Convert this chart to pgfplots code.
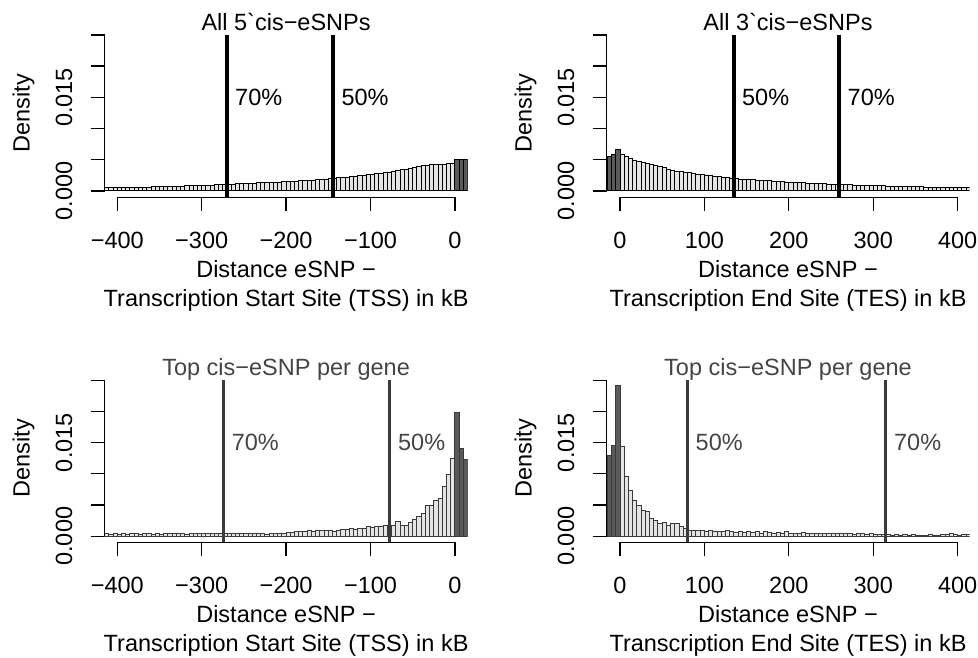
\documentclass[border=0pt]{standalone}
\usepackage{fontspec}
\setmainfont{Liberation Sans}[Ligatures=TeXOff]
\usepackage{pgfplots}
\pgfplotsset{compat=1.18}
\definecolor{barfill}{HTML}{E4E4E4}
\definecolor{darkfill}{HTML}{5A5A5A}
\definecolor{lowink}{HTML}{3A3A3A}
\definecolor{lowtext}{HTML}{444444}

\pgfplotsset{
  rhist/.style={
    scale only axis, width=363pt, height=168.5pt,
    ymin=-0.001, ymax=0.026,
    clip mode=individual,
    axis lines=left, axis line style={draw=none,-},
    tick align=outside, major tick length=14pt,
    tick style={black, line width=1.3pt},
    ytick={0,0.005,0.010,0.015,0.020,0.025},
    yticklabels={0.000,,,0.015,,},
    scaled y ticks=false, scaled x ticks=false,
    xticklabel style={anchor=base, inner sep=0pt},
    yticklabel style={rotate=90, anchor=base, inner sep=0pt},
    xticklabel shift=37pt,
    yticklabel shift=18.5pt,
    /pgf/number format/assume math mode=true,
    every axis title/.style={at={(0.5,1)}, anchor=base, yshift=-1.5pt},
  },
  tss/.style={xmin=-415, xmax=15, xtick={-400,-300,-200,-100,0},
    xticklabels={−400,−300,−200,−100,0}},
  tes/.style={xmin=-16, xmax=414, xtick={0,100,200,300,400},
    xticklabels={0,100,200,300,400}},
}

\begin{document}
\fontsize{23.5}{28.5}\selectfont
\begin{tikzpicture}
\path[use as bounding box] (0pt,0pt) rectangle (978pt,658pt);

% ---------- top left: all 5' cis-eSNPs
\begin{axis}[rhist, tss, at={(104.6pt,460.8pt)}, anchor=south west,
  title={All 5\char"60 cis−eSNPs}]
\addplot[ybar interval, draw=black, fill=barfill, line width=1pt] coordinates {
(-420,0.00048) (-415,0.00050) (-410,0.00050) (-405,0.00052) (-400,0.00053)
(-395,0.00054) (-390,0.00056) (-385,0.00057) (-380,0.00058) (-375,0.00060)
(-370,0.00061) (-365,0.00063) (-360,0.00065) (-355,0.00066) (-350,0.00068)
(-345,0.00070) (-340,0.00072) (-335,0.00074) (-330,0.00076) (-325,0.00078)
(-320,0.00080) (-315,0.00082) (-310,0.00084) (-305,0.00086) (-300,0.00089)
(-295,0.00092) (-290,0.00095) (-285,0.00098) (-280,0.00101) (-275,0.00104)
(-270,0.00108) (-265,0.00110) (-260,0.00113) (-255,0.00116) (-250,0.00119)
(-245,0.00122) (-240,0.00125) (-235,0.00128) (-230,0.00131) (-225,0.00134)
(-220,0.00137) (-215,0.00140) (-210,0.00143) (-205,0.00146) (-200,0.00149)
(-195,0.00152) (-190,0.00156) (-185,0.00160) (-180,0.00164) (-175,0.00168)
(-170,0.00173) (-165,0.00178) (-160,0.00184) (-155,0.00190) (-150,0.00196)
(-145,0.00202) (-140,0.00208) (-135,0.00214) (-130,0.00221) (-125,0.00228)
(-120,0.00235) (-115,0.00242) (-110,0.00250) (-105,0.00258) (-100,0.00266)
(-95,0.00275) (-90,0.00284) (-85,0.00293) (-80,0.00302) (-75,0.00312)
(-70,0.00324) (-65,0.00336) (-60,0.00350) (-55,0.00365) (-50,0.00380)
(-45,0.00392) (-40,0.00402) (-35,0.00410) (-30,0.00416) (-25,0.00421)
(-20,0.00425) (-15,0.00428) (-10,0.00432) (-5,0.00438) (0,0)
};
\addplot[ybar interval, draw=black, fill=darkfill, line width=1pt] coordinates {
(0,0.0051) (5,0.0051) (10,0.0051) (15,0)
};
\addplot[black, line width=4pt] coordinates {(-270,-0.001) (-270,0.025)};
\addplot[black, line width=4pt] coordinates {(-144,-0.001) (-144,0.025)};
\node[anchor=west, inner sep=0pt, xshift=8pt] at (axis cs:-270,0.015) {70\%};
\node[anchor=west, inner sep=0pt, xshift=8pt] at (axis cs:-144,0.015) {50\%};
\draw[line width=1.3pt] (axis cs:-400,-0.001) -- (axis cs:0,-0.001);
\draw[line width=1.3pt] (axis cs:-415,0) -- (axis cs:-415,0.025);
\node[anchor=base] at (rel axis cs:0.5,0) [yshift=-80pt] {Distance eSNP −};
\node[anchor=base] at (rel axis cs:0.5,0) [yshift=-109pt] {Transcription Start Site (TSS) in kB};
\node[rotate=90, anchor=base] at (axis description cs:-0.2066,0.5) {Density};
\end{axis}

% ---------- top right: all 3' cis-eSNPs
\begin{axis}[rhist, tes, at={(606.5pt,460.8pt)}, anchor=south west,
  title={All 3\char"60 cis−eSNPs}]
\addplot[ybar interval, draw=black, fill=darkfill, line width=1pt] coordinates {
(-20,0.0055) (-15,0.0056) (-10,0.0059) (-5,0.0067) (0,0)
};
\addplot[ybar interval, draw=black, fill=barfill, line width=1pt] coordinates {
(0,0.0059) (5,0.0055) (10,0.0052) (15,0.0049) (20,0.0047)
(25,0.0046) (30,0.0044) (35,0.0043) (40,0.0041) (45,0.0039)
(50,0.0037) (55,0.0034) (60,0.0032) (65,0.0031) (70,0.0031)
(75,0.0030) (80,0.0029) (85,0.0028) (90,0.0027) (95,0.0026)
(100,0.0025) (105,0.0024) (110,0.0023) (115,0.0023) (120,0.0022)
(125,0.0021) (130,0.0020) (135,0.0020) (140,0.0019) (145,0.0019)
(150,0.0018) (155,0.0018) (160,0.0017) (165,0.0017) (170,0.0016)
(175,0.0016) (180,0.0015) (185,0.0015) (190,0.0015) (195,0.0014)
(200,0.0014) (205,0.00135) (210,0.00132) (215,0.00128) (220,0.00125)
(225,0.00122) (230,0.00119) (235,0.00116) (240,0.00113) (245,0.00110)
(250,0.00108) (255,0.00106) (260,0.00103) (265,0.00100) (270,0.00097)
(275,0.00094) (280,0.00092) (285,0.00090) (290,0.00088) (295,0.00086)
(300,0.00084) (305,0.00082) (310,0.00080) (315,0.00078) (320,0.00076)
(325,0.00074) (330,0.00072) (335,0.00070) (340,0.00069) (345,0.00068)
(350,0.00066) (355,0.00065) (360,0.00063) (365,0.00062) (370,0.00060)
(375,0.00059) (380,0.00058) (385,0.00056) (390,0.00055) (395,0.00054)
(400,0.00053) (405,0.00052) (410,0.00050) (415,0.00050) (420,0)
};
\addplot[black, line width=4pt] coordinates {(135,-0.001) (135,0.025)};
\addplot[black, line width=4pt] coordinates {(260,-0.001) (260,0.025)};
\node[anchor=west, inner sep=0pt, xshift=8pt] at (axis cs:135,0.015) {50\%};
\node[anchor=west, inner sep=0pt, xshift=8pt] at (axis cs:260,0.015) {70\%};
\draw[line width=1.3pt] (axis cs:0,-0.001) -- (axis cs:400,-0.001);
\draw[line width=1.3pt] (axis cs:-16,0) -- (axis cs:-16,0.025);
\node[anchor=base] at (rel axis cs:0.5,0) [yshift=-80pt] {Distance eSNP −};
\node[anchor=base] at (rel axis cs:0.5,0) [yshift=-109pt] {Transcription End Site (TES) in kB};
\node[rotate=90, anchor=base] at (axis description cs:-0.2066,0.5) {Density};
\end{axis}

% ---------- bottom left: top cis-eSNP per gene, TSS
\begin{axis}[rhist, tss, at={(104.6pt,115.5pt)}, anchor=south west,
  title={\color{lowtext}Top cis−eSNP per gene}]
\addplot[ybar interval, draw=lowink, fill=barfill, line width=1pt] coordinates {
(-420,0.0004) (-415,0.0004) (-410,0.0003) (-405,0.0004) (-400,0.0003)
(-395,0.0004) (-390,0.0003) (-385,0.0004) (-380,0.0004) (-375,0.0003)
(-370,0.0004) (-365,0.0004) (-360,0.0003) (-355,0.0004) (-350,0.0003)
(-345,0.0004) (-340,0.0004) (-335,0.0005) (-330,0.0004) (-325,0.0004)
(-320,0.0003) (-315,0.0004) (-310,0.0004) (-305,0.0004) (-300,0.0005)
(-295,0.0004) (-290,0.0004) (-285,0.0005) (-280,0.0004) (-275,0.0004)
(-270,0.0005) (-265,0.0004) (-260,0.0004) (-255,0.0005) (-250,0.0004)
(-245,0.0004) (-240,0.0005) (-235,0.0004) (-230,0.0004) (-225,0.0003)
(-220,0.0004) (-215,0.0004) (-210,0.0005) (-205,0.0005) (-200,0.0006)
(-195,0.0006) (-190,0.0007) (-185,0.0007) (-180,0.0008) (-175,0.0009)
(-170,0.0008) (-165,0.0009) (-160,0.0010) (-155,0.0009) (-150,0.0010)
(-145,0.0008) (-140,0.0010) (-135,0.0011) (-130,0.0011) (-125,0.0012)
(-120,0.0011) (-115,0.0013) (-110,0.0013) (-105,0.0015) (-100,0.0014)
(-95,0.0016) (-90,0.0015) (-85,0.0018) (-80,0.0018) (-75,0.0018)
(-70,0.0023) (-65,0.0018) (-60,0.0017) (-55,0.0022) (-50,0.0027)
(-45,0.0032) (-40,0.0036) (-35,0.0049) (-30,0.0049) (-25,0.0058)
(-20,0.0061) (-15,0.0079) (-10,0.0099) (-5,0.0125) (0,0)
};
\addplot[ybar interval, draw=lowink, fill=darkfill, line width=1pt] coordinates {
(0,0.0198) (5,0.0140) (10,0.0123) (15,0)
};
\addplot[lowink, line width=3pt] coordinates {(-274,-0.001) (-274,0.025)};
\addplot[lowink, line width=3pt] coordinates {(-77,-0.001) (-77,0.025)};
\node[anchor=west, inner sep=0pt, xshift=8pt, text=lowtext] at (axis cs:-274,0.015) {70\%};
\node[anchor=west, inner sep=0pt, xshift=8pt, text=lowtext] at (axis cs:-77,0.015) {50\%};
\draw[line width=1.3pt] (axis cs:-400,-0.001) -- (axis cs:0,-0.001);
\draw[line width=1.3pt] (axis cs:-415,0) -- (axis cs:-415,0.025);
\node[anchor=base] at (rel axis cs:0.5,0) [yshift=-80pt] {Distance eSNP −};
\node[anchor=base] at (rel axis cs:0.5,0) [yshift=-109pt] {Transcription Start Site (TSS) in kB};
\node[rotate=90, anchor=base] at (axis description cs:-0.2066,0.5) {Density};
\end{axis}

% ---------- bottom right: top cis-eSNP per gene, TES
\begin{axis}[rhist, tes, at={(606.5pt,115.5pt)}, anchor=south west,
  title={\color{lowtext}Top cis−eSNP per gene}]
\addplot[ybar interval, draw=lowink, fill=darkfill, line width=1pt] coordinates {
(-15,0.0129) (-10,0.0145) (-5,0.0242) (0,0)
};
\addplot[ybar interval, draw=lowink, fill=barfill, line width=1pt] coordinates {
(0,0.0144) (5,0.0096) (10,0.0073) (15,0.0058) (20,0.0049)
(25,0.0041) (30,0.0039) (35,0.0029) (40,0.0026) (45,0.0021)
(50,0.0022) (55,0.0018) (60,0.0020) (65,0.0021) (70,0.0016)
(75,0.0013) (80,0.0009) (85,0.0010) (90,0.0009) (95,0.0009)
(100,0.0008) (105,0.0009) (110,0.0008) (115,0.0007) (120,0.0008)
(125,0.0009) (130,0.0007) (135,0.0006) (140,0.0007) (145,0.0006)
(150,0.0007) (155,0.0006) (160,0.0008) (165,0.0005) (170,0.0007)
(175,0.0006) (180,0.0005) (185,0.0006) (190,0.0005) (195,0.0007)
(200,0.0005) (205,0.0004) (210,0.0005) (215,0.0006) (220,0.0004)
(225,0.0005) (230,0.0004) (235,0.0004) (240,0.0005) (245,0.0005)
(250,0.0005) (255,0.0005) (260,0.0004) (265,0.0004) (270,0.0004)
(275,0.0003) (280,0.0004) (285,0.0004) (290,0.0003) (295,0.0004)
(300,0.0003) (305,0.0003) (310,0.0003) (315,0.0003) (320,0.0002)
(325,0.0003) (330,0.0002) (335,0.0003) (340,0.0002) (345,0.0003)
(350,0.0002) (355,0.0002) (360,0.0002) (365,0.0003) (370,0.0002)
(375,0.0002) (380,0.0003) (385,0.0003) (390,0.0004) (395,0.0003)
(400,0.0002) (405,0.0003) (410,0.0003) (415,0.0002) (420,0)
};
\addplot[lowink, line width=3pt] coordinates {(80,-0.001) (80,0.025)};
\addplot[lowink, line width=3pt] coordinates {(315,-0.001) (315,0.025)};
\node[anchor=west, inner sep=0pt, xshift=8pt, text=lowtext] at (axis cs:80,0.015) {50\%};
\node[anchor=west, inner sep=0pt, xshift=8pt, text=lowtext] at (axis cs:315,0.015) {70\%};
\draw[line width=1.3pt] (axis cs:0,-0.001) -- (axis cs:400,-0.001);
\draw[line width=1.3pt] (axis cs:-16,0) -- (axis cs:-16,0.025);
\node[anchor=base] at (rel axis cs:0.5,0) [yshift=-80pt] {Distance eSNP −};
\node[anchor=base] at (rel axis cs:0.5,0) [yshift=-109pt] {Transcription End Site (TES) in kB};
\node[rotate=90, anchor=base] at (axis description cs:-0.2066,0.5) {Density};
\end{axis}
\end{tikzpicture}
\end{document}
